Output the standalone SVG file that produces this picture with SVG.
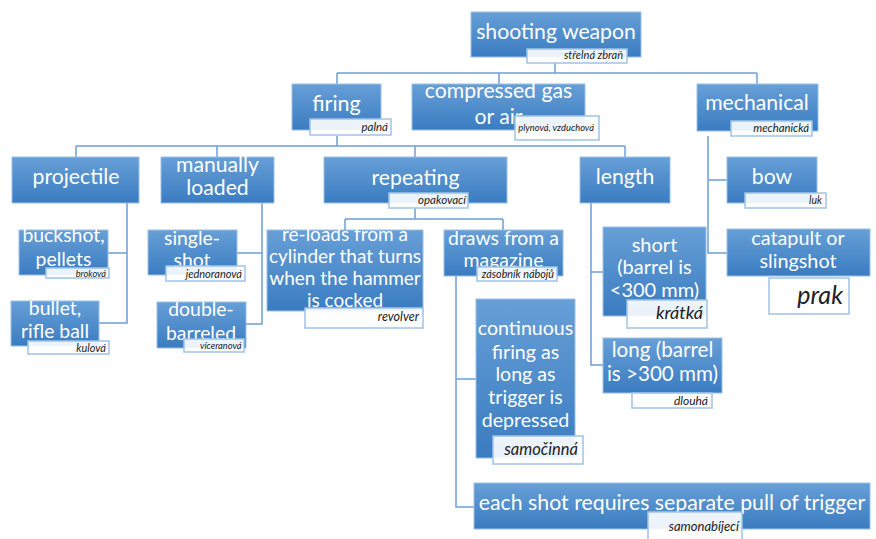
<svg xmlns="http://www.w3.org/2000/svg" width="876" height="539" viewBox="0 0 876 539">
  <defs>
    <linearGradient id="boxFill" x1="0" y1="0" x2="0" y2="1">
      <stop offset="0" stop-color="#679fd7"/>
      <stop offset="1" stop-color="#3a7cc1"/>
    </linearGradient>
    <style>
      .box { fill: url(#boxFill); stroke: #9cbfe6; stroke-width: 1; }
      .tag { fill: #ffffff; fill-opacity: 0.9; stroke: #9fc3e8; stroke-width: 1.5; }
      .t { font-family: Lato, "Open Sans", sans-serif; fill: #ffffff; text-anchor: middle; }
      .lb { font-family: Lato, "Open Sans", sans-serif; font-style: italic; fill: #222222; text-anchor: end; }
      .conn { fill: none; stroke: #6e9fd6; stroke-width: 1.5; }
    </style>
  </defs>
  <rect width="876" height="539" fill="#ffffff"/>

  <!-- connectors -->
  <g id="connectors" class="conn">
    <path d="M555 63V73M337 73H757M337 73V84M499 73V84M757 73V84"/>
    <path d="M337 136V146M76 146H625M76 146V157M217 146V157M415 146V157M625 146V157"/>
    <path d="M127 203V323H99M127 253H108"/>
    <path d="M262 203V324H246M262 253H237"/>
    <path d="M415 208V219M345 219H503M345 219V230M503 219V230"/>
    <path d="M456 276V507H474M456 379H476"/>
    <path d="M591 203V365H603M591 272H603"/>
    <path d="M708 136V253H727M708 180H727"/>
  </g>

  <!-- level 0 -->
  <g id="shooting-weapon">
    <rect class="box" x="471" y="12" width="170" height="45"/>
    <text class="t" x="556" y="39" font-size="21.2">shooting weapon</text>
    <rect class="tag" x="527" y="49" width="100" height="14"/>
    <text class="lb" x="623" y="59" font-size="11">střelná zbraň</text>
  </g>

  <!-- level 1 -->
  <g id="firing">
    <rect class="box" x="292" y="84" width="89" height="46"/>
    <text class="t" x="336.5" y="111" font-size="21.5">firing</text>
    <rect class="tag" x="310" y="119" width="81" height="16"/>
    <text class="lb" x="388" y="130.5" font-size="11.5">palná</text>
  </g>
  <g id="compressed-gas">
    <rect class="box" x="412" y="84" width="173" height="46"/>
    <text class="t" x="498.5" y="98" font-size="21.2">compressed gas</text>
    <text class="t" x="498.5" y="123.5" font-size="21.2">or air</text>
    <rect class="tag" x="515" y="116" width="84" height="24"/>
    <text class="lb" x="594" y="131" font-size="9.4">plynová, vzduchová</text>
  </g>
  <g id="mechanical">
    <rect class="box" x="697" y="84" width="121" height="47"/>
    <text class="t" x="757" y="109.5" font-size="21.2">mechanical</text>
    <rect class="tag" x="731" y="121" width="81" height="15"/>
    <text class="lb" x="809" y="132" font-size="11.3">mechanická</text>
  </g>

  <!-- level 2 -->
  <g id="projectile">
    <rect class="box" x="12" y="157" width="127" height="46"/>
    <text class="t" x="76" y="183.5" font-size="21.2">projectile</text>
  </g>
  <g id="manually-loaded">
    <rect class="box" x="161" y="157" width="113" height="46"/>
    <text class="t" x="217.5" y="171.5" font-size="21.2">manually</text>
    <text class="t" x="217.5" y="195" font-size="21.2">loaded</text>
  </g>
  <g id="repeating">
    <rect class="box" x="324" y="157" width="183" height="46"/>
    <text class="t" x="415.5" y="184.5" font-size="21.2">repeating</text>
    <rect class="tag" x="389" y="193" width="79" height="15"/>
    <text class="lb" x="466" y="204" font-size="11.5">opakovací</text>
  </g>
  <g id="length">
    <rect class="box" x="580" y="157" width="90" height="46"/>
    <text class="t" x="625" y="183.5" font-size="21.2">length</text>
  </g>
  <g id="bow">
    <rect class="box" x="727" y="157" width="90" height="46"/>
    <text class="t" x="772" y="183.5" font-size="21.2">bow</text>
    <rect class="tag" x="745" y="193" width="81" height="15"/>
    <text class="lb" x="822" y="204" font-size="10.5">luk</text>
  </g>
  <g id="catapult">
    <rect class="box" x="727" y="229" width="143" height="47"/>
    <text class="t" x="798" y="245" font-size="19.8">catapult or</text>
    <text class="t" x="798" y="267.5" font-size="19.8">slingshot</text>
    <rect class="tag" x="769" y="278" width="80" height="36"/>
    <text class="lb" x="843" y="303.5" font-size="25">prak</text>
  </g>

  <!-- level 3 -->
  <g id="buckshot">
    <rect class="box" x="19" y="230" width="89" height="45"/>
    <text class="t" x="63.5" y="241.5" font-size="19.4">buckshot,</text>
    <text class="t" x="63.5" y="266" font-size="19.4">pellets</text>
    <rect class="tag" x="46" y="268" width="63" height="10"/>
    <text class="lb" x="106" y="276.5" font-size="9.2">broková</text>
  </g>
  <g id="bullet">
    <rect class="box" x="11" y="301" width="88" height="45"/>
    <text class="t" x="55" y="315" font-size="19.4">bullet,</text>
    <text class="t" x="55" y="337.5" font-size="19.4">rifle ball</text>
    <rect class="tag" x="28" y="341" width="81" height="13"/>
    <text class="lb" x="106" y="351.5" font-size="11">kulová</text>
  </g>
  <g id="single-shot">
    <rect class="box" x="148" y="230" width="89" height="45"/>
    <text class="t" x="192" y="245" font-size="19.4">single-</text>
    <text class="t" x="192" y="267" font-size="19.4">shot</text>
    <rect class="tag" x="166" y="266" width="79" height="15"/>
    <text class="lb" x="242" y="277.5" font-size="11">jednoranová</text>
  </g>
  <g id="double-barreled">
    <rect class="box" x="157" y="302" width="89" height="46"/>
    <text class="t" x="201" y="316" font-size="19.4">double-</text>
    <text class="t" x="201" y="339.5" font-size="19.4">barreled</text>
    <rect class="tag" x="184" y="339" width="60" height="13"/>
    <text class="lb" x="241.5" y="348.5" font-size="9.3">víceranová</text>
  </g>
  <g id="revolver">
    <rect class="box" x="267" y="230" width="156" height="81"/>
    <text class="t" x="345" y="241" font-size="19">re-loads from a</text>
    <text class="t" x="345" y="263" font-size="19">cylinder that turns</text>
    <text class="t" x="345" y="284.5" font-size="19">when the hammer</text>
    <text class="t" x="345" y="306.5" font-size="19">is cocked</text>
    <rect class="tag" x="305" y="308" width="118" height="20"/>
    <text class="lb" x="419" y="321" font-size="12.5">revolver</text>
  </g>
  <g id="magazine">
    <rect class="box" x="444" y="230" width="119" height="46"/>
    <text class="t" x="503.5" y="244.5" font-size="19.4">draws from a</text>
    <text class="t" x="503.5" y="267" font-size="19.4">magazine</text>
    <rect class="tag" x="477" y="267" width="80" height="14"/>
    <text class="lb" x="554" y="277.5" font-size="10.8">zásobník nábojů</text>
  </g>
  <g id="short">
    <rect class="box" x="603" y="227" width="103" height="89"/>
    <text class="t" x="654.5" y="252" font-size="20">short</text>
    <text class="t" x="654.5" y="274" font-size="20">(barrel is</text>
    <text class="t" x="654.5" y="297" font-size="20">&lt;300 mm)</text>
    <rect class="tag" x="627" y="300" width="80" height="28"/>
    <text class="lb" x="703" y="319" font-size="18">krátká</text>
  </g>
  <g id="long">
    <rect class="box" x="603" y="338" width="119" height="55"/>
    <text class="t" x="662.5" y="357" font-size="20.6">long (barrel</text>
    <text class="t" x="662.5" y="381" font-size="20.6">is &gt;300 mm)</text>
    <rect class="tag" x="632" y="393" width="80" height="15"/>
    <text class="lb" x="708" y="404.5" font-size="12">dlouhá</text>
  </g>

  <!-- level 4 -->
  <g id="continuous">
    <rect class="box" x="476" y="299" width="99" height="159"/>
    <text class="t" x="525.5" y="335" font-size="19.6">continuous</text>
    <text class="t" x="525.5" y="358.5" font-size="19.6">firing as</text>
    <text class="t" x="525.5" y="381" font-size="19.6">long as</text>
    <text class="t" x="525.5" y="404" font-size="19.6">trigger is</text>
    <text class="t" x="525.5" y="427" font-size="19.6">depressed</text>
    <rect class="tag" x="493" y="436" width="90" height="28"/>
    <text class="lb" x="578" y="454.5" font-size="16.5">samočinná</text>
  </g>
  <g id="each-shot">
    <rect class="box" x="474" y="483" width="396" height="46"/>
    <text class="t" x="672" y="509.5" font-size="21.3">each shot requires separate pull of trigger</text>
    <rect class="tag" x="648" y="512" width="94" height="30"/>
    <text class="lb" x="739" y="530.5" font-size="13">samonabíjecí</text>
  </g>
</svg>
